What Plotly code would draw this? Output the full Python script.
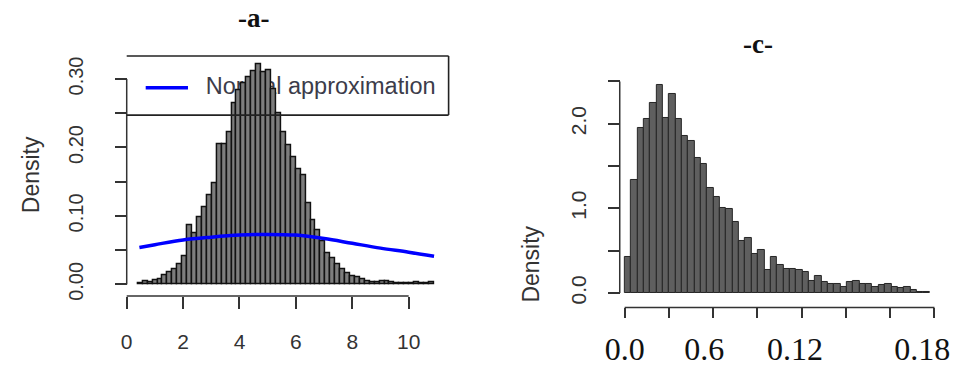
import numpy as np
import plotly.graph_objects as go

# ---------------- data ----------------
# panel a: histogram (bin width, first edge) and density heights
A_BIN_START = 0.4
A_BIN_WIDTH = 0.175
A_DENSITY = [0.002, 0.004, 0.003, 0.006, 0.008, 0.013, 0.018, 0.022, 0.029, 0.041,
             0.086, 0.075, 0.098, 0.112, 0.130, 0.148, 0.204, 0.205, 0.222, 0.264,
             0.283, 0.293, 0.303, 0.311, 0.322, 0.310, 0.312, 0.285, 0.250, 0.222,
             0.203, 0.185, 0.168, 0.160, 0.118, 0.094, 0.079, 0.063, 0.045, 0.038,
             0.029, 0.022, 0.016, 0.012, 0.010, 0.008, 0.005, 0.003, 0.003, 0.004,
             0.004, 0.003, 0.002, 0.002, 0.002, 0.001, 0.003, 0.002, 0.002, 0.003]
# normal approximation curve
NORMAL_X = [0.45, 1.0, 2.0, 3.0, 4.0, 5.0, 6.0, 7.0, 8.0, 9.0, 10.0, 10.9]
NORMAL_Y = [0.054, 0.058, 0.065, 0.069, 0.072, 0.073, 0.072, 0.067, 0.060, 0.053, 0.047, 0.041]
A_XTICKS = [0, 2, 4, 6, 8, 10]
A_YTICKS = [0.00, 0.05, 0.10, 0.15, 0.20, 0.25, 0.30]
A_YTICKTEXT = ["0.00", "", "0.10", "", "0.20", "", "0.30"]
LEGEND_LABEL = "Normal approximation"

# panel c: histogram
C_BIN_START = 0.0
C_BIN_WIDTH = 0.00287
C_DENSITY = [0.42, 1.33, 1.95, 2.05, 2.25, 2.46, 2.07, 2.35, 2.05, 1.85,
             1.80, 1.59, 1.52, 1.24, 1.14, 1.01, 0.99, 0.84, 0.62, 0.65,
             0.46, 0.51, 0.27, 0.42, 0.33, 0.28, 0.28, 0.27, 0.25, 0.14,
             0.20, 0.135, 0.11, 0.11, 0.07, 0.13, 0.14, 0.11, 0.11, 0.07,
             0.09, 0.11, 0.07, 0.06, 0.07, 0.04, 0.01, 0.01]
C_XTICKS = [0, 0.02, 0.04, 0.06, 0.08, 0.10, 0.12, 0.14]
C_XLABEL_AT = [0.0, 0.036, 0.077, 0.1345]
C_XLABELS = ["0.0", "0.6", "0.12", "0.18"]
C_YTICKS = [0.0, 0.5, 1.0, 1.5, 2.0, 2.5]
C_YTICKTEXT = ["0.0", "", "1.0", "", "2.0", ""]

# ---------------- geometry helpers ----------------
W, H = 970, 369
def pxx(p):
    return p / W
def pxy(p):
    return 1 - p / H

# panel a pixel mapping
A_X0, A_XS = 120.7, 28.67
A_Y0, A_YS = 288.3, 694.0
a_xdom_px = (110, 452)
a_ydom_px = (300, 50)
a_xrange = [(a_xdom_px[0] - A_X0) / A_XS, (a_xdom_px[1] - A_X0) / A_XS]
a_yrange = [(A_Y0 - a_ydom_px[0]) / A_YS, (A_Y0 - a_ydom_px[1]) / A_YS]

# panel c pixel mapping
C_X0, C_XS = 627.0, 2250.0
C_Y0, C_YS = 297.0, 85.8
c_xdom_px = (615, 950)
c_ydom_px = (312, 75)
c_xrange = [(c_xdom_px[0] - C_X0) / C_XS, (c_xdom_px[1] - C_X0) / C_XS]
c_yrange = [(C_Y0 - c_ydom_px[0]) / C_YS, (C_Y0 - c_ydom_px[1]) / C_YS]

a_centers = A_BIN_START + A_BIN_WIDTH * (np.arange(len(A_DENSITY)) + 0.5)
c_centers = C_BIN_START + C_BIN_WIDTH * (np.arange(len(C_DENSITY)) + 0.5)

SANS = "Liberation Sans, Arial, sans-serif"
SERIF = "Liberation Serif, Times New Roman, serif"
TXT = "#333333"

fig = go.Figure()

# legend text (under the bars) on base subplot of panel a
fig.add_trace(go.Scatter(
    x=[(201 - A_X0) / A_XS], y=[(A_Y0 - 89) / A_YS], mode="text",
    text=[LEGEND_LABEL], textposition="middle right",
    textfont=dict(family=SANS, size=23.5, color="#3c3c4a"),
    xaxis="x", yaxis="y", showlegend=False, hoverinfo="skip"))

# bars + normal curve on overlay subplot of panel a
fig.add_trace(go.Bar(
    x=a_centers, y=A_DENSITY, width=A_BIN_WIDTH,
    marker=dict(color="#7d7d7d", line=dict(color="#111111", width=1.5)),
    xaxis="x3", yaxis="y3", showlegend=False))
fig.add_trace(go.Scatter(
    x=NORMAL_X, y=NORMAL_Y, mode="lines", line=dict(color="#0000ff", width=3.5, shape="spline"),
    xaxis="x3", yaxis="y3", showlegend=False))

# panel c bars
fig.add_trace(go.Bar(
    x=c_centers, y=C_DENSITY, width=C_BIN_WIDTH,
    marker=dict(color="#5f5f5f", line=dict(color="#262626", width=1)),
    xaxis="x2", yaxis="y2", showlegend=False))
# dummy trace to activate label axis
fig.add_trace(go.Scatter(x=[None], y=[None], xaxis="x4", yaxis="y2", showlegend=False))

common = dict(showgrid=False, zeroline=False, showline=False)

fig.update_layout(
    width=W, height=H, autosize=False,
    margin=dict(l=0, r=0, t=0, b=0),
    paper_bgcolor="white", plot_bgcolor="rgba(0,0,0,0)",
    bargap=0,
    xaxis=dict(domain=[pxx(a_xdom_px[0]), pxx(a_xdom_px[1])], range=a_xrange,
               anchor="free", position=pxy(300),
               tickvals=A_XTICKS, ticks="outside", ticklen=12, tickwidth=1.5, tickcolor=TXT,
               tickfont=dict(family=SANS, size=21, color=TXT), ticklabelstandoff=15, **common),
    yaxis=dict(domain=[pxy(a_ydom_px[0]), pxy(a_ydom_px[1])], range=a_yrange,
               anchor="free", position=pxx(A_X0),
               tickvals=A_YTICKS, ticktext=A_YTICKTEXT, tickangle=-90,
               ticks="outside", ticklen=12, tickwidth=1.5, tickcolor=TXT,
               tickfont=dict(family=SANS, size=20, color=TXT), ticklabelstandoff=24, **common),
    xaxis3=dict(overlaying="x", range=a_xrange, visible=False, **common),
    yaxis3=dict(overlaying="y", range=a_yrange, visible=False, **common),
    xaxis2=dict(domain=[pxx(c_xdom_px[0]), pxx(c_xdom_px[1])], range=c_xrange,
                anchor="free", position=pxy(311.7),
                tickvals=C_XTICKS, showticklabels=False,
                ticks="outside", ticklen=10, tickwidth=1.5, tickcolor=TXT, **common),
    xaxis4=dict(overlaying="x2", range=c_xrange, anchor="free", position=pxy(311.7),
                tickvals=C_XLABEL_AT, ticktext=C_XLABELS, ticks="",
                tickfont=dict(family=SERIF, size=32, color="#111111"), ticklabelstandoff=20, **common),
    yaxis2=dict(domain=[pxy(c_ydom_px[0]), pxy(c_ydom_px[1])], range=c_yrange,
                anchor="free", position=pxx(622),
                tickvals=C_YTICKS, ticktext=C_YTICKTEXT, tickangle=-90,
                ticks="outside", ticklen=12, tickwidth=1.5, tickcolor=TXT,
                tickfont=dict(family=SANS, size=21, color=TXT), ticklabelstandoff=13, **common),
)

shapes = []
# panel a axis lines
shapes.append(dict(type="line", xref="x", yref="paper", x0=A_XTICKS[0], x1=A_XTICKS[-1],
                   y0=pxy(300), y1=pxy(300), line=dict(color=TXT, width=1.5)))
shapes.append(dict(type="line", xref="paper", yref="y", x0=pxx(A_X0), x1=pxx(A_X0),
                   y0=A_YTICKS[0], y1=A_YTICKS[-1], line=dict(color=TXT, width=1.5)))
# panel a legend box (top, right, bottom)
box_l, box_r = 0.0, (448 - A_X0) / A_XS
box_t, box_b = (A_Y0 - 56.7) / A_YS, (A_Y0 - 116.7) / A_YS
for (x0, y0, x1, y1) in [(box_l, box_t, box_r, box_t), (box_r, box_t, box_r, box_b),
                         (box_l, box_b, box_r, box_b)]:
    shapes.append(dict(type="line", xref="x", yref="y", x0=x0, y0=y0, x1=x1, y1=y1,
                       line=dict(color="#222222", width=1.6), layer="above"))
# legend sample line
shapes.append(dict(type="line", xref="x", yref="y", x0=(140 - A_X0) / A_XS, x1=(183 - A_X0) / A_XS,
                   y0=(A_Y0 - 89) / A_YS, y1=(A_Y0 - 89) / A_YS,
                   line=dict(color="#0000ff", width=3.5)))
# panel c axis lines
shapes.append(dict(type="line", xref="x2", yref="paper", x0=C_XTICKS[0], x1=C_XTICKS[-1],
                   y0=pxy(311.7), y1=pxy(311.7), line=dict(color=TXT, width=1.5)))
shapes.append(dict(type="line", xref="paper", yref="y2", x0=pxx(622), x1=pxx(622),
                   y0=C_YTICKS[0], y1=C_YTICKS[-1], line=dict(color=TXT, width=1.5)))
fig.update_layout(shapes=shapes)

ann_common = dict(xref="paper", yref="paper", showarrow=False, xanchor="center", yanchor="middle")
annotations = [
    dict(text="<b>-a-</b>", x=pxx(250), y=pxy(18),
         font=dict(family=SERIF, size=27, color="#111111"), **ann_common),
    dict(text="<b>-c-</b>", x=pxx(763), y=pxy(45),
         font=dict(family=SERIF, size=27, color="#111111"), **ann_common),
    dict(text="Density", x=pxx(23), y=pxy(177), textangle=-90,
         font=dict(family=SANS, size=23, color=TXT), **ann_common),
    dict(text="Density", x=pxx(532), y=pxy(268), textangle=-90,
         font=dict(family=SANS, size=23, color=TXT), **ann_common),
]
fig.update_layout(annotations=annotations)

fig.write_html("out.html", config={"displayModeBar": False},
               post_script="document.body.style.margin='0';document.body.style.overflow='hidden';")
